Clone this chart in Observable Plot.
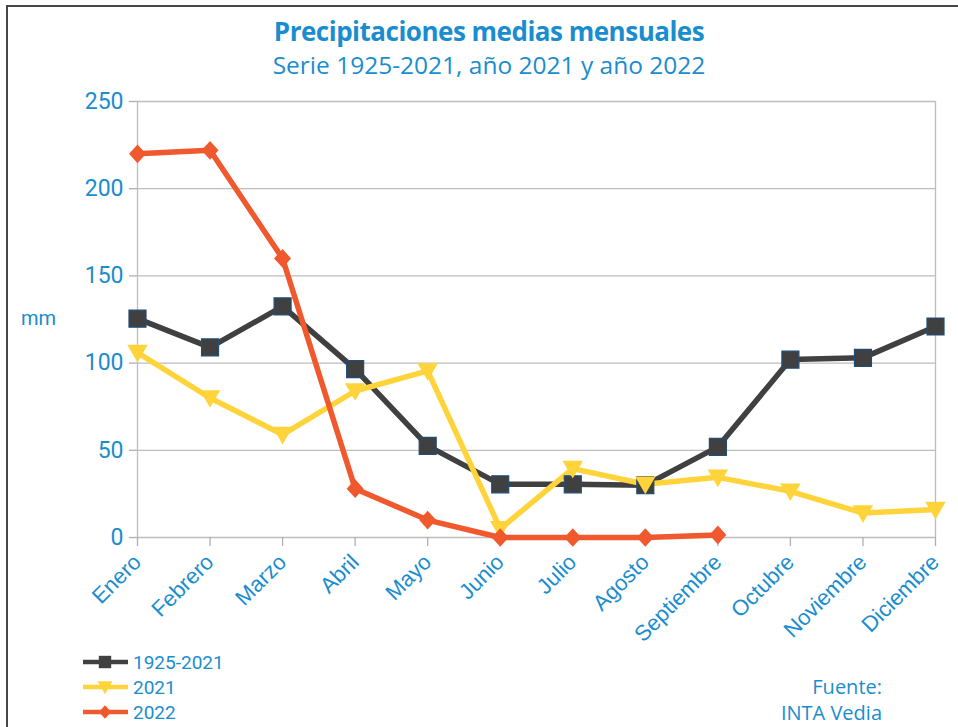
<!DOCTYPE html>
<html>
<head>
<meta charset="utf-8">
<script src="https://cdn.jsdelivr.net/npm/d3@7"></script>
<script src="https://cdn.jsdelivr.net/npm/@observablehq/plot@0.6"></script>
<style>
  html, body { margin: 0; padding: 0; background: #fff; }
  #wrap { position: relative; width: 958px; height: 727px; overflow: hidden; background: #fff; }
  #frame { position: absolute; left: 6px; top: 5px; width: 960px; height: 730px; border-left: 2px solid #474747; border-top: 2px solid #474747; }
  .t { position: absolute; color: #1a8dcf; white-space: nowrap; }
  #title { left: 489px; top: 13px; transform: translateX(-50%); font: bold 26px "Open Sans", sans-serif; letter-spacing: -0.5px; }
  #subtitle { left: 489px; top: 48px; transform: translateX(-50%); font: 24.5px "Open Sans", sans-serif; letter-spacing: 0px; }
  #ylab { left: 21px; top: 306px; font: 20px Roboto, sans-serif; }
  #src { right: 76px; top: 674px; text-align: right; font: 20px "Open Sans", sans-serif; line-height: 26px; }
  #chart { position: absolute; left: 0; top: 0; }
  #legend { position: absolute; left: 80px; top: 648px; }
</style>
</head>
<body>
<div id="wrap">
  <div id="chart"></div>
  <div id="frame"></div>
  <div id="title" class="t">Precipitaciones medias mensuales</div>
  <div id="subtitle" class="t">Serie 1925-2021, año 2021 y año 2022</div>
  <div id="ylab" class="t">mm</div>
  <div id="legend"></div>
  <div id="src" class="t">Fuente:<br>INTA Vedia</div>
</div>
<script>
const months = ["Enero","Febrero","Marzo","Abril","Mayo","Junio","Julio","Agosto","Septiembre","Octubre","Noviembre","Diciembre"];
const serie1925_2021 = [125.5, 109, 132.5, 96.5, 52.5, 30.5, 30.5, 30, 52, 102, 103, 121];
const anio2021 = [106, 80, 59, 84, 95.5, 5, 39.5, 30.5, 34.5, 26.5, 14, 16];
const anio2022 = [220, 222, 160, 28, 10, 0, 0, 0, 1.5];
const yTicks = [0, 50, 100, 150, 200, 250];
const seriesNames = ["1925-2021", "2021", "2022"];
const colors = ["#404040", "#FFD43B", "#F0582D"];

const blue = "#1a8dcf";

// custom symbols (size = r*r*PI)
const rOf = s => Math.sqrt(s / Math.PI);
const squareSym = { draw(ctx, size) { const r = rOf(size); ctx.rect(-r, -r, 2*r, 2*r); } };
const triDownSym = { draw(ctx, size) { const r = rOf(size); ctx.moveTo(-1.25*r, -0.95*r); ctx.lineTo(1.25*r, -0.95*r); ctx.lineTo(0, 1.2*r); ctx.closePath(); } };
const diamondSym = { draw(ctx, size) { const r = rOf(size); ctx.moveTo(0, -1.1*r); ctx.lineTo(r, 0); ctx.lineTo(0, 1.1*r); ctx.lineTo(-r, 0); ctx.closePath(); } };

const toRows = arr => arr.map((v, i) => ({month: months[i], value: v}));
const d1 = toRows(serie1925_2021), d2 = toRows(anio2021), d3r = toRows(anio2022);

const chart = Plot.plot({
  width: 958,
  height: 727,
  marginLeft: 137,
  marginRight: 23,
  marginTop: 101,
  marginBottom: 190,
  style: {fontFamily: "Roboto, sans-serif", background: "transparent", overflow: "visible"},
  x: {type: "point", domain: months, padding: 0, round: false},
  y: {domain: [0, 250]},
  marks: [
    Plot.gridY(yTicks, {stroke: "#bdbdbd", strokeOpacity: 1, strokeWidth: 1.3}),
    Plot.ruleX([months[0], months[months.length - 1]], {stroke: "#bdbdbd", strokeWidth: 1.3}),
    Plot.axisY(yTicks, {tickSize: 8, tickPadding: 6, stroke: "#b0b0b0", fill: blue, fontSize: 23, label: null, strokeWidth: 1.3}),
    Plot.axisX({tickSize: 9, tickPadding: 12, tickRotate: -45, stroke: "#b0b0b0", fill: blue, fontSize: 22, fontFamily: "Liberation Sans, Arial, sans-serif", label: null, strokeWidth: 1.3}),
    Plot.lineY(d1, {x: "month", y: "value", stroke: colors[0], strokeWidth: 5.5}),
    Plot.lineY(d2, {x: "month", y: "value", stroke: colors[1], strokeWidth: 5.5}),
    Plot.lineY(d3r, {x: "month", y: "value", stroke: colors[2], strokeWidth: 5.5}),
    Plot.dot(d1, {x: "month", y: "value", symbol: squareSym, r: 8.5, fill: colors[0], stroke: "#1f4e79", strokeWidth: 1.2}),
    Plot.dot(d2, {x: "month", y: "value", symbol: triDownSym, r: 8.2, fill: colors[1], stroke: "none"}),
    Plot.dot(d3r, {x: "month", y: "value", symbol: diamondSym, r: 8.5, fill: colors[2], stroke: "none"})
  ]
});
document.getElementById("chart").appendChild(chart);

// legend
const leg = d3.create("svg").attr("width", 200).attr("height", 78);
const syms = [squareSym, triDownSym, diamondSym];
const legR = [6.2, 6, 6.2];
seriesNames.forEach((name, i) => {
  const cy = 14 + i * 25;
  const g = leg.append("g").attr("transform", `translate(0,${cy})`);
  g.append("line").attr("x1", 3).attr("x2", 48).attr("y1", 0).attr("y2", 0).attr("stroke", colors[i]).attr("stroke-width", 4.5);
  g.append("path").attr("transform", "translate(25,0)").attr("d", d3.symbol(syms[i], legR[i]*legR[i]*Math.PI)()).attr("fill", colors[i]);
  g.append("text").attr("x", 53).attr("y", 7).attr("fill", blue).attr("font-family", "Roboto, sans-serif").attr("font-size", 19).text(name);
});
document.getElementById("legend").appendChild(leg.node());
</script>
</body>
</html>
